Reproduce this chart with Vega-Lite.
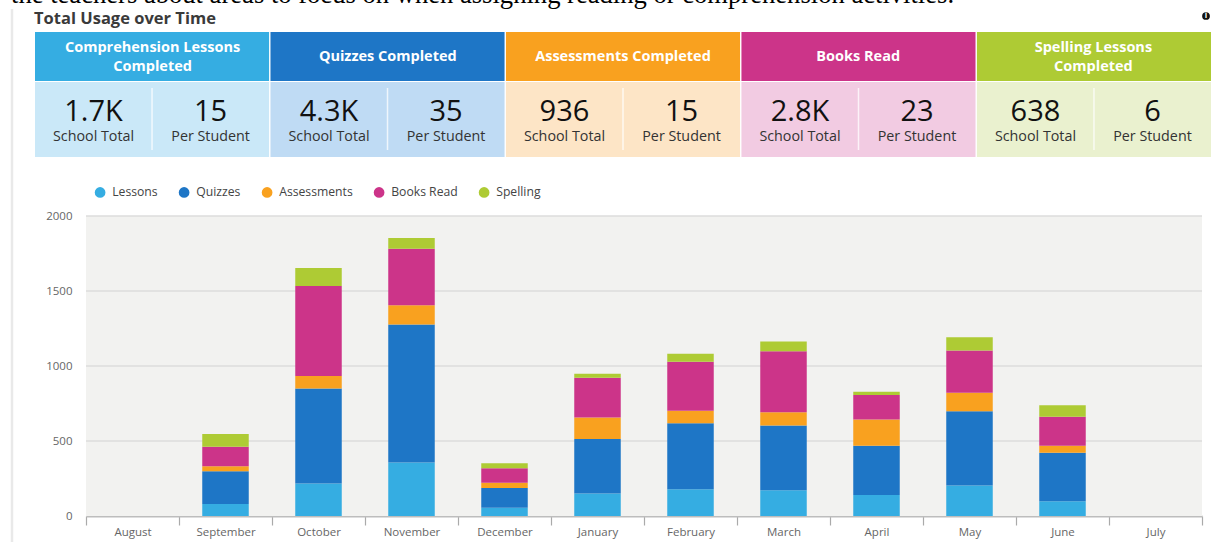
{
"$schema":"https://vega.github.io/schema/vega-lite/v6.json",
"width":1211,"height":542,"padding":0,"autosize":{"type":"none"},"background":"white",
"config":{"view":{"stroke":null},"axis":{"disable":true},"legend":{"disable":true},"font":"Open Sans"},
"datasets":{
"cards":[
{"series":"Lessons","heading":"Comprehension Lessons\nCompleted","lines":"two"},
{"series":"Quizzes","heading":"Quizzes Completed","lines":"one"},
{"series":"Assessments","heading":"Assessments Completed","lines":"one"},
{"series":"Books Read","heading":"Books Read","lines":"one"},
{"series":"Spelling","heading":"Spelling Lessons\nCompleted","lines":"two"}],
"cells":[
{"series":"Lessons","measure":"School Total","shown":"1.7K"},{"series":"Lessons","measure":"Per Student","shown":"15"},
{"series":"Quizzes","measure":"School Total","shown":"4.3K"},{"series":"Quizzes","measure":"Per Student","shown":"35"},
{"series":"Assessments","measure":"School Total","shown":"936"},{"series":"Assessments","measure":"Per Student","shown":"15"},
{"series":"Books Read","measure":"School Total","shown":"2.8K"},{"series":"Books Read","measure":"Per Student","shown":"23"},
{"series":"Spelling","measure":"School Total","shown":"638"},{"series":"Spelling","measure":"Per Student","shown":"6"}],
"usage":[
{"month":"September","series":"Lessons","rank":1,"count":80},{"month":"September","series":"Quizzes","rank":2,"count":219},{"month":"September","series":"Assessments","rank":3,"count":33},{"month":"September","series":"Books Read","rank":4,"count":130},{"month":"September","series":"Spelling","rank":5,"count":84},
{"month":"October","series":"Lessons","rank":1,"count":217},{"month":"October","series":"Quizzes","rank":2,"count":633},{"month":"October","series":"Assessments","rank":3,"count":84},{"month":"October","series":"Books Read","rank":4,"count":599},{"month":"October","series":"Spelling","rank":5,"count":120},
{"month":"November","series":"Lessons","rank":1,"count":356},{"month":"November","series":"Quizzes","rank":2,"count":921},{"month":"November","series":"Assessments","rank":3,"count":128},{"month":"November","series":"Books Read","rank":4,"count":376},{"month":"November","series":"Spelling","rank":5,"count":73},
{"month":"December","series":"Lessons","rank":1,"count":55},{"month":"December","series":"Quizzes","rank":2,"count":131},{"month":"December","series":"Assessments","rank":3,"count":35},{"month":"December","series":"Books Read","rank":4,"count":98},{"month":"December","series":"Spelling","rank":5,"count":33},
{"month":"January","series":"Lessons","rank":1,"count":150},{"month":"January","series":"Quizzes","rank":2,"count":364},{"month":"January","series":"Assessments","rank":3,"count":142},{"month":"January","series":"Books Read","rank":4,"count":265},{"month":"January","series":"Spelling","rank":5,"count":28},
{"month":"February","series":"Lessons","rank":1,"count":178},{"month":"February","series":"Quizzes","rank":2,"count":440},{"month":"February","series":"Assessments","rank":3,"count":84},{"month":"February","series":"Books Read","rank":4,"count":327},{"month":"February","series":"Spelling","rank":5,"count":53},
{"month":"March","series":"Lessons","rank":1,"count":171},{"month":"March","series":"Quizzes","rank":2,"count":433},{"month":"March","series":"Assessments","rank":3,"count":87},{"month":"March","series":"Books Read","rank":4,"count":407},{"month":"March","series":"Spelling","rank":5,"count":66},
{"month":"April","series":"Lessons","rank":1,"count":140},{"month":"April","series":"Quizzes","rank":2,"count":329},{"month":"April","series":"Assessments","rank":3,"count":175},{"month":"April","series":"Books Read","rank":4,"count":163},{"month":"April","series":"Spelling","rank":5,"count":22},
{"month":"May","series":"Lessons","rank":1,"count":204},{"month":"May","series":"Quizzes","rank":2,"count":494},{"month":"May","series":"Assessments","rank":3,"count":124},{"month":"May","series":"Books Read","rank":4,"count":282},{"month":"May","series":"Spelling","rank":5,"count":87},
{"month":"June","series":"Lessons","rank":1,"count":98},{"month":"June","series":"Quizzes","rank":2,"count":324},{"month":"June","series":"Assessments","rank":3,"count":47},{"month":"June","series":"Books Read","rank":4,"count":193},{"month":"June","series":"Spelling","rank":5,"count":76}],
"gridlines":[{"level":500},{"level":1000},{"level":1500},{"level":2000}],
"page":[{"note":"page"}]
},
"resolve":{"scale":{"x":"independent","y":"independent","color":"independent","fill":"independent","xOffset":"independent"},"axis":{"x":"independent","y":"independent"},"legend":{"color":"independent"}},
"layer":[
{"data":{"name":"page"},"mark":{"type":"rule","color":"#e9e9e9","strokeWidth":2.5},
 "encoding":{"x":{"datum":0,"type":"quantitative","scale":{"domain":[0,1],"range":[12,1211]}},
 "y":{"datum":0,"type":"quantitative","scale":{"domain":[0,1],"range":[9,542]}},"y2":{"datum":1}}},
{"data":{"values":[{"line":"the teachers about areas to focus on when assigning reading or comprehension activities."}]},
 "mark":{"type":"text","font":"Liberation Serif","fontSize":26.6,"align":"left","baseline":"alphabetic","color":"#000"},
 "encoding":{"text":{"field":"line"},"x":{"datum":0,"type":"quantitative","scale":{"domain":[0,1],"range":[11,1211]}},
 "y":{"datum":0,"type":"quantitative","scale":{"domain":[0,1],"range":[3,542]}}}},
{"data":{"values":[{"line":"Total Usage over Time"}]},
 "mark":{"type":"text","font":"Open Sans","fontWeight":"bold","fontSize":16.5,"align":"left","baseline":"middle","color":"#3a3a3a"},
 "encoding":{"text":{"field":"line"},"x":{"datum":0,"type":"quantitative","scale":{"domain":[0,1],"range":[34,1211]}},
 "y":{"datum":0,"type":"quantitative","scale":{"domain":[0,1],"range":[19,542]}}}},
{"data":{"name":"page"},"mark":{"type":"point","filled":true,"shape":"circle","size":60,"color":"#111","opacity":1},
 "encoding":{"x":{"datum":0,"type":"quantitative","scale":{"domain":[0,1],"range":[1206,1211]}},
 "y":{"datum":0,"type":"quantitative","scale":{"domain":[0,1],"range":[16,542]}}}},
{"data":{"values":[{"glyph":"i"}]},"mark":{"type":"text","font":"Open Sans","fontWeight":"bold","fontSize":8,"align":"center","baseline":"middle","color":"#fff"},
 "encoding":{"text":{"field":"glyph"},"x":{"datum":0,"type":"quantitative","scale":{"domain":[0,1],"range":[1206,1211]}},
 "y":{"datum":0,"type":"quantitative","scale":{"domain":[0,1],"range":[16,542]}}}},
{"data":{"name":"cards"},"mark":{"type":"rect"},
 "encoding":{"x":{"field":"series","type":"nominal","sort":null,"scale":{"domain":["Lessons","Quizzes","Assessments","Books Read","Spelling"],"range":[35,1211],"paddingInner":0.006,"paddingOuter":0}},
 "y":{"datum":0,"type":"quantitative","scale":{"domain":[0,1],"range":[32,81]}},"y2":{"datum":1},
 "fill":{"field":"series","type":"nominal","scale":{"domain":["Lessons","Quizzes","Assessments","Books Read","Spelling"],"range":["#35ade2","#1e76c6","#f9a11f","#cc3489","#aecb34"]}}}},
{"data":{"name":"cards"},"mark":{"type":"rect"},
 "encoding":{"x":{"field":"series","type":"nominal","sort":null,"scale":{"domain":["Lessons","Quizzes","Assessments","Books Read","Spelling"],"range":[35,1211],"paddingInner":0.006,"paddingOuter":0}},
 "y":{"datum":0,"type":"quantitative","scale":{"domain":[0,1],"range":[82,157]}},"y2":{"datum":1},
 "fill":{"field":"series","type":"nominal","scale":{"domain":["Lessons","Quizzes","Assessments","Books Read","Spelling"],"range":["#cae8f8","#bfdbf4","#fde5c6","#f2cbe2","#eaf1cf"]}}}},
{"data":{"name":"cards"},"mark":{"type":"rule","color":"#ffffff","strokeOpacity":0.75,"strokeWidth":1.5},
 "encoding":{"x":{"field":"series","type":"nominal","sort":null,"scale":{"domain":["Lessons","Quizzes","Assessments","Books Read","Spelling"],"range":[35,1211],"paddingInner":0.006,"paddingOuter":0}},
 "y":{"datum":0,"type":"quantitative","scale":{"domain":[0,1],"range":[88,150]}},"y2":{"datum":1}}},
{"data":{"name":"cards"},"mark":{"type":"text","font":"Open Sans","fontWeight":"bold","fontSize":14.5,"color":"#fff","align":"center","baseline":"middle","lineBreak":"\n","lineHeight":19},
 "encoding":{"text":{"field":"heading"},"x":{"field":"series","type":"nominal","sort":null,"scale":{"domain":["Lessons","Quizzes","Assessments","Books Read","Spelling"],"range":[35,1211],"paddingInner":0.006,"paddingOuter":0}},
 "y":{"field":"lines","type":"nominal","scale":{"type":"point","domain":["one","two"],"range":[57,47.5],"padding":0}}}},
{"data":{"name":"cells"},"mark":{"type":"text","font":"Open Sans","fontSize":29,"color":"#111","align":"center","baseline":"middle"},
 "encoding":{"text":{"field":"shown"},"x":{"field":"series","type":"nominal","sort":null,"scale":{"domain":["Lessons","Quizzes","Assessments","Books Read","Spelling"],"range":[35,1211],"paddingInner":0.006,"paddingOuter":0}},
 "xOffset":{"field":"measure","type":"nominal","sort":null,"scale":{"domain":["School Total","Per Student"]}},
 "y":{"datum":0,"type":"quantitative","scale":{"domain":[0,1],"range":[112,157]}}}},
{"data":{"name":"cells"},"mark":{"type":"text","font":"Open Sans","fontSize":14.3,"color":"#333","align":"center","baseline":"middle"},
 "encoding":{"text":{"field":"measure"},"x":{"field":"series","type":"nominal","sort":null,"scale":{"domain":["Lessons","Quizzes","Assessments","Books Read","Spelling"],"range":[35,1211],"paddingInner":0.006,"paddingOuter":0}},
 "xOffset":{"field":"measure","type":"nominal","sort":null,"scale":{"domain":["School Total","Per Student"]}},
 "y":{"datum":0,"type":"quantitative","scale":{"domain":[0,1],"range":[137,157]}}}},
{"data":{"name":"page"},"mark":{"type":"rect","color":"#f2f2f0"},
 "encoding":{"x":{"datum":0,"type":"quantitative","scale":{"domain":[0,1],"range":[86,1202]}},"x2":{"datum":1},
 "y":{"datum":0,"type":"quantitative","scale":{"domain":[0,2000],"range":[516,216]}},"y2":{"datum":2000}}},
{"data":{"name":"gridlines"},"mark":{"type":"rule","color":"#dcdcdc","strokeWidth":1.5},
 "encoding":{"x":{"datum":0,"type":"quantitative","scale":{"domain":[0,1],"range":[86,1202]}},"x2":{"datum":1},
 "y":{"field":"level","type":"quantitative","scale":{"domain":[0,2000],"range":[516,216]}}}},
{"data":{"name":"usage"},"mark":{"type":"bar","width":{"band":0.5}},
 "encoding":{
 "x":{"field":"month","type":"nominal","sort":null,"scale":{"domain":["August","September","October","November","December","January","February","March","April","May","June","July"],"range":[86,1202],"paddingInner":0,"paddingOuter":0},
  "axis":{"disable":false,"title":null,"orient":"bottom","offset":-26,"labelAngle":0,"labelFont":"Open Sans","labelFontSize":11.5,"labelColor":"#666","tickBand":"extent","tickSize":9,"tickColor":"#aaa","tickWidth":1.2,"domainColor":"#bdbdbd","domainWidth":2,"labelPadding":1,"grid":false}},
 "y":{"field":"count","type":"quantitative","stack":"zero","scale":{"domain":[0,2000],"range":[516,216]},
  "axis":{"disable":false,"title":null,"orient":"left","offset":-86,"values":[0,500,1000,1500,2000],"format":"d","labelFont":"Open Sans","labelFontSize":11.5,"labelColor":"#666","ticks":false,"domain":false,"grid":false,"labelPadding":14}},
 "order":{"field":"rank","type":"quantitative"},
 "color":{"field":"series","type":"nominal","sort":null,"scale":{"domain":["Lessons","Quizzes","Assessments","Books Read","Spelling"],"range":["#35ade2","#1e76c6","#f9a11f","#cc3489","#aecb34"]},
  "legend":{"disable":false,"title":null,"orient":"none","legendX":94,"legendY":186,"direction":"horizontal","symbolType":"circle","symbolSize":115,"labelFont":"Open Sans","labelFontSize":12.2,"labelColor":"#444","columnPadding":20,"labelOffset":6,"symbolStrokeWidth":0}}}}
]}
